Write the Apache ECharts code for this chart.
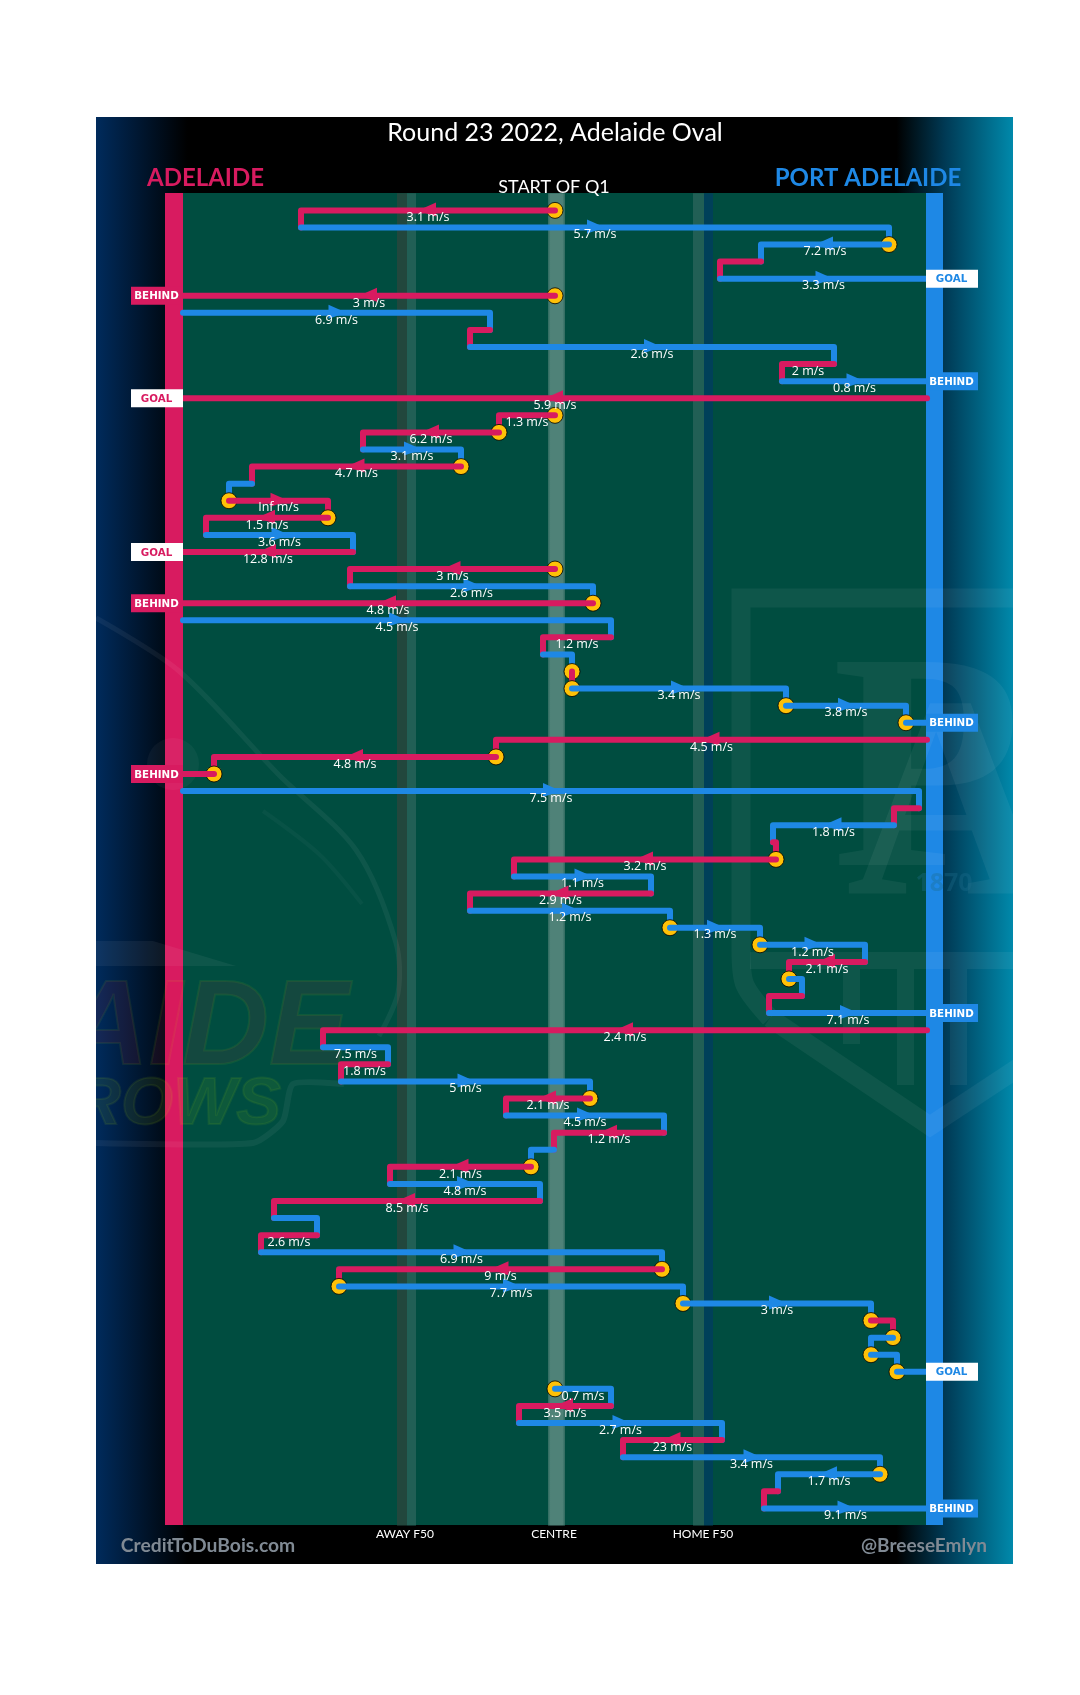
<!DOCTYPE html>
<html>
<head>
<meta charset="utf-8">
<title>Round 23 2022, Adelaide Oval</title>
<script src="https://cdn.jsdelivr.net/npm/echarts@6/dist/echarts.min.js"></script>
<style>
    html, body { margin: 0; padding: 0; background: #fff; }
    #main { width: 1080px; height: 1695px; }
</style>
</head>
<body>
<div id="main"></div>
<script>
// one entry per chain step, top to bottom. x is distance from the centre circle
const rowTeam = ["A","P","P","A","P","A","P","A","P","A","P","A","A","A","P","A","P","A","A","P","A",
    "A","P","A","P","A","P","A","P","P","P","A","A","A","P","A","P","A","A","P","A","P","P","P","A",
    "P","A","P","A","P","A","P","A","P","A","P","A","P","A","P","A","P","A","P","P","A","P","P","P",
    "P","A","P","A","P","P","A","P"];
const rowFrom = [0,-254,334,206,165,0,-372,-65,-85,279,227,372,0,-56,-192,-94,-303,-326,-227,-349,-202,
    0,-205,38,-372,56,-12,17,17,231,351,372,-59,-341,-372,364,339,218,221,-41,96,-85,115,205,310,
    234,247,214,372,-232,-167,-214,35,-49,109,-1,-24,-165,-15,-281,-238,-294,107,-216,128,316,338,316,342,
    0,56,-36,167,68,325,223,209];
const rowTo = [-254,334,206,165,372,-372,-65,-85,279,227,372,-372,-56,-192,-94,-303,-326,-227,-349,-202,-372,
    -205,38,-372,56,-12,17,17,231,351,372,-59,-341,-372,364,339,218,221,-41,96,-85,115,205,310,234,
    247,214,372,-232,-167,-214,35,-49,109,-1,-24,-165,-15,-281,-238,-294,107,-216,128,316,338,316,342,372,
    56,-36,167,68,325,223,209,372];
const rowSpeed = ["3.1","5.7","7.2",null,"3.3","3","6.9",null,"2.6","2","0.8","5.9","1.3","6.2","3.1","4.7",null,"Inf","1.5","3.6","12.8",
    "3","2.6","4.8","4.5","1.2",null,null,"3.4","3.8",null,"4.5","4.8",null,"7.5",null,"1.8",null,"3.2","1.1","2.9","1.2","1.3","1.2","2.1",
    null,null,"7.1","2.4","7.5","1.8","5","2.1","4.5","1.2",null,"2.1","4.8","8.5",null,"2.6","6.9","9","7.7","3",null,null,null,null,
    "0.7","3.5","2.7","23","3.4","1.7",null,"9.1"];
const stoppageRows = [0,2,5,12,13,15,17,18,21,23,27,28,29,30,32,33,38,42,43,45,52,56,62,63,64,65,66,67,68,69,74];
const scoreRows = [4,5,10,11,20,23,30,33,47,68,76];
const scoreKinds = ["GOAL","BEHIND","BEHIND","GOAL","GOAL","BEHIND","BEHIND","BEHIND","BEHIND","GOAL","BEHIND"];
const fieldMarks = [-150, -1, 148];
const fieldMarkNames = ["AWAY F50", "CENTRE", "HOME F50"];
const bandFrom = [-158, -148, -7, 138, 149];
const bandTo = [-148, -139, 10, 149, 158];

const PINK = "#D81B60";
const BLUE = "#1E88E5";
const YELLOW = "#FFC107";
const WALL = 372;
const faint = "rgba(255,255,255,0.055)";
const bandColors = ["#22473D", "#215F55", {
    type: "linear", x: 0, y: 0, x2: 1, y2: 0,
    colorStops: [
        { offset: 0, color: "#2F6A5F" }, { offset: 0.15, color: "#4F8278" },
        { offset: 0.85, color: "#4F8278" }, { offset: 1, color: "#2F6A5F" }
    ]
}, "#215F55", "#004059"];

const teamColor = i => (rowTeam[i] === "A" ? PINK : BLUE);

const renderBand = (params, api) => {
    const i = api.value(0);
    const a = api.coord([bandFrom[i], -1]);
    const b = api.coord([bandTo[i], 77]);
    return {
        type: "rect",
        shape: { x: a[0], y: a[1], width: b[0] - a[0], height: b[1] - a[1] },
        style: { fill: bandColors[i] }
    };
};

const renderRow = (params, api) => {
    const i = api.value(0);
    const from = rowFrom[i];
    const to = rowTo[i];
    const start = api.coord([from, i]);
    const end = api.coord([to, i]);
    const color = teamColor(i);
    const children = [];

    if (stoppageRows.includes(i)) {
        children.push({
            type: "circle",
            shape: { cx: start[0], cy: start[1], r: 8 },
            style: { fill: YELLOW, stroke: "#000", lineWidth: 0.8 }
        });
    }

    const points = [start, end];
    // ball carries on to the next row unless it left the ground
    if (Math.abs(to) !== WALL) {
        points.push(api.coord([to, i + 1]));
    }
    children.push({
        type: "polyline",
        shape: { points: points },
        style: { stroke: color, fill: null, lineWidth: 6, lineCap: "round", lineJoin: "round" }
    });

    const length = end[0] - start[0];
    if (rowSpeed[i] !== null && Math.abs(length) >= 70) {
        const dir = length > 0 ? 1 : -1;
        const mid = (start[0] + end[0]) / 2;
        const y = start[1];
        children.push({
            type: "polygon",
            shape: { points: [[mid - 8 * dir, y - 8], [mid + 10 * dir, y], [mid - 8 * dir, y + 6]] },
            style: { fill: color }
        });
    }
    return { type: "group", children: children };
};

const renderSpeed = (params, api) => {
    const i = api.value(0);
    const start = api.coord([rowFrom[i], i]);
    const end = api.coord([rowTo[i], i]);
    return {
        type: "text",
        style: {
            x: (start[0] + end[0]) / 2,
            y: start[1] + 7.2,
            text: rowSpeed[i] + " m/s",
            fill: "#fff",
            font: "12.5px 'Open Sans'",
            textAlign: "center",
            textVerticalAlign: "middle"
        }
    };
};

const renderBadge = (params, api) => {
    const k = api.value(0);
    const i = scoreRows[k];
    const to = rowTo[i];
    const wall = Math.abs(to) === WALL ? to : rowFrom[i];
    const p = api.coord([wall, i]);
    const isLeft = wall < 0;
    const isGoal = scoreKinds[k] === "GOAL";
    const color = isLeft ? PINK : BLUE;
    const x = isLeft ? p[0] - 52 : p[0] - 1;
    return {
        type: "group",
        children: [{
            type: "rect",
            shape: { x: x, y: p[1] - 9, width: 52, height: 18 },
            style: { fill: isGoal ? "#fff" : color }
        }, {
            type: "text",
            style: {
                x: x + 25.5,
                y: p[1] + 1,
                text: scoreKinds[k],
                fill: isGoal ? color : "#fff",
                font: "bold 10.3px 'DejaVu Sans'",
                textAlign: "center",
                textVerticalAlign: "middle"
            }
        }]
    };
};

const topText = (text, left, top, size, color, weight) => ({
    text: text,
    left: left,
    top: top,
    textAlign: "center",
    textStyle: { color: color, fontFamily: "Lato", fontSize: size, fontWeight: weight || "normal" }
});

const backdrop = [
    {
        type: "rect", z: -2,
        shape: { x: 96, y: 117, width: 917, height: 1447 },
        style: {
            fill: {
                type: "linear", x: 0, y: 0, x2: 1, y2: 0,
                colorStops: [
                    { offset: 0, color: "#002B5C" }, { offset: 0.1, color: "#000" },
                    { offset: 0.873, color: "#000" }, { offset: 0.926, color: "#003A55" },
                    { offset: 1, color: "#0089AB" }
                ]
            }
        }
    },
    { type: "rect", z: -1, shape: { x: 183, y: 193, width: 744, height: 1332 }, style: { fill: "#004D40" } },
    { type: "rect", z: 1, shape: { x: 165, y: 193, width: 18, height: 1332 }, style: { fill: PINK } },
    { type: "rect", z: 1, shape: { x: 926, y: 193, width: 17, height: 1332 }, style: { fill: BLUE } }
];

// faint club logos behind the chains, rough shapes only
const portLogo = [
    { type: "polyline", z: 2, shape: { points: [[741, 952], [741, 598], [1030, 598]] }, style: { stroke: faint, fill: null, lineWidth: 19 } },
    { type: "polyline", z: 2, shape: { smooth: 0.3, points: [[741, 952], [745, 985], [770, 1018]] }, style: { stroke: faint, fill: null, lineWidth: 19 } },
    { type: "polyline", z: 2, shape: { points: [[770, 1018], [930, 1126], [1030, 1060]] }, style: { stroke: faint, fill: null, lineWidth: 19 } },
    { type: "rect", z: 2, shape: { x: 750, y: 952, width: 263, height: 17 }, style: { fill: faint } },
    { type: "rect", z: 2, shape: { x: 843, y: 969, width: 17, height: 75 }, style: { fill: faint } },
    { type: "rect", z: 2, shape: { x: 897, y: 969, width: 17, height: 116 }, style: { fill: faint } },
    { type: "rect", z: 2, shape: { x: 950, y: 969, width: 17, height: 116 }, style: { fill: faint } },
    { type: "text", z: 2, style: { x: 832, y: 785, text: "P", fill: faint, font: "bold 310px 'Liberation Serif'", textVerticalAlign: "middle" } },
    { type: "text", z: 2, style: { x: 950, y: 819, text: "A", fill: faint, font: "bold 288px 'Liberation Serif'", textAlign: "center", textVerticalAlign: "middle" } },
    { type: "text", z: 2, style: { x: 944, y: 884, text: "1870", fill: "rgba(30,110,140,0.35)", font: "bold 25px 'Open Sans'", textAlign: "center", textVerticalAlign: "middle" } }
];

const crowsLogo = [
    { type: "polyline", z: 2, shape: { smooth: 0.3, points: [[96, 618], [179, 671], [279, 775], [356, 850], [396, 943], [398, 993], [379, 1036]] }, style: { stroke: faint, fill: null, lineWidth: 5 } },
    { type: "polyline", z: 2, shape: { smooth: 0.3, points: [[263, 811], [320, 855], [362, 904]] }, style: { stroke: "rgba(255,255,255,0.03)", fill: null, lineWidth: 4 } },
    { type: "circle", z: 2, shape: { cx: 173, cy: 764, r: 26 }, style: { fill: "rgba(255,255,255,0.04)" } },
    { type: "polygon", z: 2, shape: { points: [[96, 941], [153, 941], [236, 966], [96, 966]] }, style: { fill: faint } },
    { type: "polyline", z: 2, shape: { smooth: 0.2, points: [[344, 1084], [293, 1084], [283, 1121], [253, 1143], [96, 1143]] }, style: { stroke: faint, fill: null, lineWidth: 6 } },
    { type: "text", z: 2, style: { x: 349, y: 1031, text: "ADELAIDE", fill: "rgba(226,25,55,0.09)", stroke: "rgba(200,255,0,0.07)", lineWidth: 2, font: "italic bold 120px 'Liberation Sans'", textAlign: "right", textVerticalAlign: "middle" } },
    { type: "text", z: 2, style: { x: 281, y: 1106, text: "CROWS", fill: "rgba(200,255,0,0.07)", stroke: "rgba(200,255,0,0.07)", lineWidth: 2, font: "italic bold 67px 'Liberation Sans'", textAlign: "right", textVerticalAlign: "middle" } },
    // the logo text runs off the panel, hide what spills onto the page
    { type: "rect", z: 3, shape: { x: 0, y: 600, width: 96, height: 580 }, style: { fill: "#fff" } }
];

const chart = echarts.init(document.getElementById("main"), null, { renderer: "canvas" });

chart.setOption({
    animation: false,
    backgroundColor: "#fff",
    title: [
        topText("Round 23 2022, Adelaide Oval", 550, 115, 25, "#fff"),
        topText("ADELAIDE", 200.5, 161, 24, PINK, "bold"),
        topText("PORT ADELAIDE", 863, 161, 24, BLUE, "bold"),
        topText("START OF Q1", 549, 173, 18, "#fff"),
        topText("CreditToDuBois.com", 203, 1531, 19.3, "#808A94", "bold"),
        topText("@BreeseEmlyn", 919, 1531, 19, "#808A94", "bold")
    ],
    grid: { left: 183, top: 193.3, width: 744, height: 1332.2 },
    xAxis: {
        type: "value",
        min: -WALL,
        max: WALL,
        axisLine: { show: false },
        axisTick: { show: false },
        splitLine: { show: false },
        axisLabel: {
            customValues: fieldMarks,
            formatter: v => fieldMarkNames[fieldMarks.indexOf(v)],
            color: "#fff",
            fontFamily: "Lato",
            fontSize: 12,
            margin: 3
        }
    },
    yAxis: { type: "value", min: -1, max: 77, inverse: true, show: false },
    graphic: { elements: backdrop.concat(portLogo, crowsLogo) },
    series: [
        {
            type: "custom", z: 1, silent: true, clip: false,
            renderItem: renderBand,
            encode: { x: 1, y: 2 },
            data: bandFrom.map((v, i) => [i, v, 0])
        },
        {
            type: "custom", z: 5, silent: true, clip: false,
            renderItem: renderRow,
            encode: { x: [1, 2], y: 0 },
            data: rowTeam.map((t, i) => [i, rowFrom[i], rowTo[i]])
        },
        {
            type: "custom", z: 6, silent: true, clip: false,
            renderItem: renderBadge,
            encode: { y: 0 },
            data: scoreRows.map((r, k) => [k])
        },
        {
            type: "custom", z: 7, silent: true, clip: false,
            renderItem: renderSpeed,
            encode: { x: [1, 2], y: 0 },
            data: rowSpeed.map((s, i) => [i, rowFrom[i], rowTo[i]]).filter(d => rowSpeed[d[0]] !== null)
        }
    ]
});
</script>
</body>
</html>
